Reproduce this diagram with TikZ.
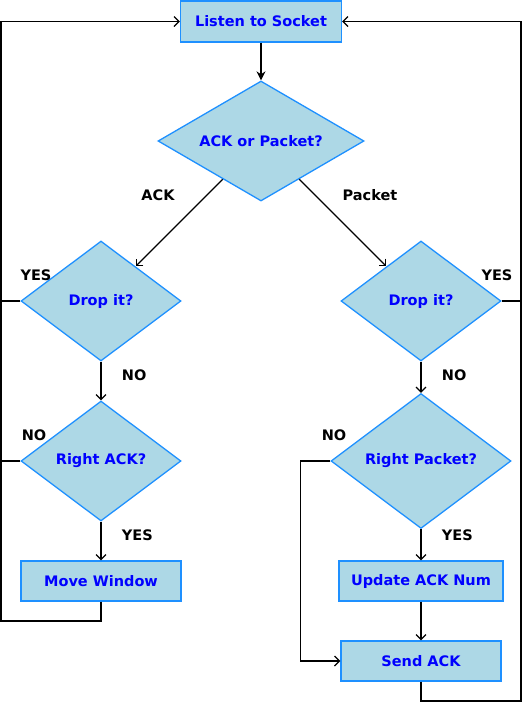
\documentclass[tikz,border=0pt]{standalone}
\usepackage{fontspec}
\setmainfont{DejaVu Sans}
\usepackage{xcolor}
\usetikzlibrary{shapes.geometric, positioning, arrows.meta}
\definecolor{boxfill}{HTML}{ADD8E6}
\definecolor{boxline}{HTML}{1E90FF}

\begin{document}
\begin{tikzpicture}[
        x=1pt, y=-1pt,
        every node/.style={font=\fontsize{14.5}{17}\selectfont\bfseries},
        block/.style={rectangle, draw=boxline, fill=boxfill, text=blue, line width=1.3pt, minimum width=160pt, minimum height=40pt, inner xsep=12pt},
        decision/.style={diamond, draw=boxline, fill=boxfill, text=blue, line width=1.3pt, inner sep=0pt, minimum width=160pt, minimum height=120pt},
        arrow/.style={-{Straight Barb[length=5pt, width=10pt]}, line width=1.2pt},
        link/.style={line width=1.2pt},
        lbl/.style={text=black}
    ]
        \useasboundingbox (0,0) rectangle (522,702);

        \node[block, minimum width=161pt, minimum height=41pt] (listen) at (261,21.5) {Listen to Socket};
        \node[decision, aspect=1.72, minimum width=206pt] (ackorpkt) at (261,141) {ACK or Packet?};

        \node[decision] (dropack) at (101,301) {Drop it?};
        \node[decision] (rightack) at (101,461) {Right ACK?};
        \node[block] (movewin) at (101,581) {Move Window};

        \node[decision] (droppkt) at (421,301) {Drop it?};
        \node[decision, minimum width=180pt, minimum height=135pt] (rightpkt) at (421,461) {Right Packet?};
        \node[block] (updack) at (421,581) {Update ACK Num};
        \node[block] (sendack) at (421,661) {Send ACK};

        \coordinate (leftbus) at (1,621);
        \coordinate (rightbus) at (521,701);

        \draw[-{Stealth[length=9pt, width=9pt]}, line width=1.2pt] (listen) -- (ackorpkt);
        \draw[arrow] (ackorpkt) -- (dropack);
        \draw[arrow] (ackorpkt) -- (droppkt);
        \node[lbl] (acklbl) at (158,195) {ACK};
        \node[lbl] (pktlbl) at (370,195) {Packet};

        \draw[arrow] (dropack) -- node[lbl, pos=0.35, right=17pt] {NO} (rightack);
        \draw[arrow] (rightack) -- node[lbl, pos=0.35, right=17pt] {YES} (movewin);
        \draw[arrow] (movewin.south) |- (leftbus) |- (listen.west);
        \draw[link] (dropack.west) -- (dropack.west -| leftbus);
        \draw[link] (rightack.west) -- (rightack.west -| leftbus);
        \node[lbl] (yesleft) at (36,275) {YES};
        \node[lbl] (noleft) at (34,435) {NO};

        \draw[arrow] (droppkt) -- node[lbl, pos=0.44, right=17pt] {NO} (rightpkt);
        \draw[arrow] (rightpkt) -- node[lbl, pos=0.21, right=17pt] {YES} (updack);
        \draw[arrow] (updack) -- (sendack);
        \draw[arrow] (rightpkt.west) -- ++(-30,0) |- (sendack.west);
        \draw[arrow] (sendack.south) |- (rightbus) |- (listen.east);
        \draw[link] (droppkt.east) -- (droppkt.east -| rightbus);
        \node[lbl] (yesright) at (497,275) {YES};
        \node[lbl] (noright) at (334,435) {NO};
    \end{tikzpicture}
\end{document}
